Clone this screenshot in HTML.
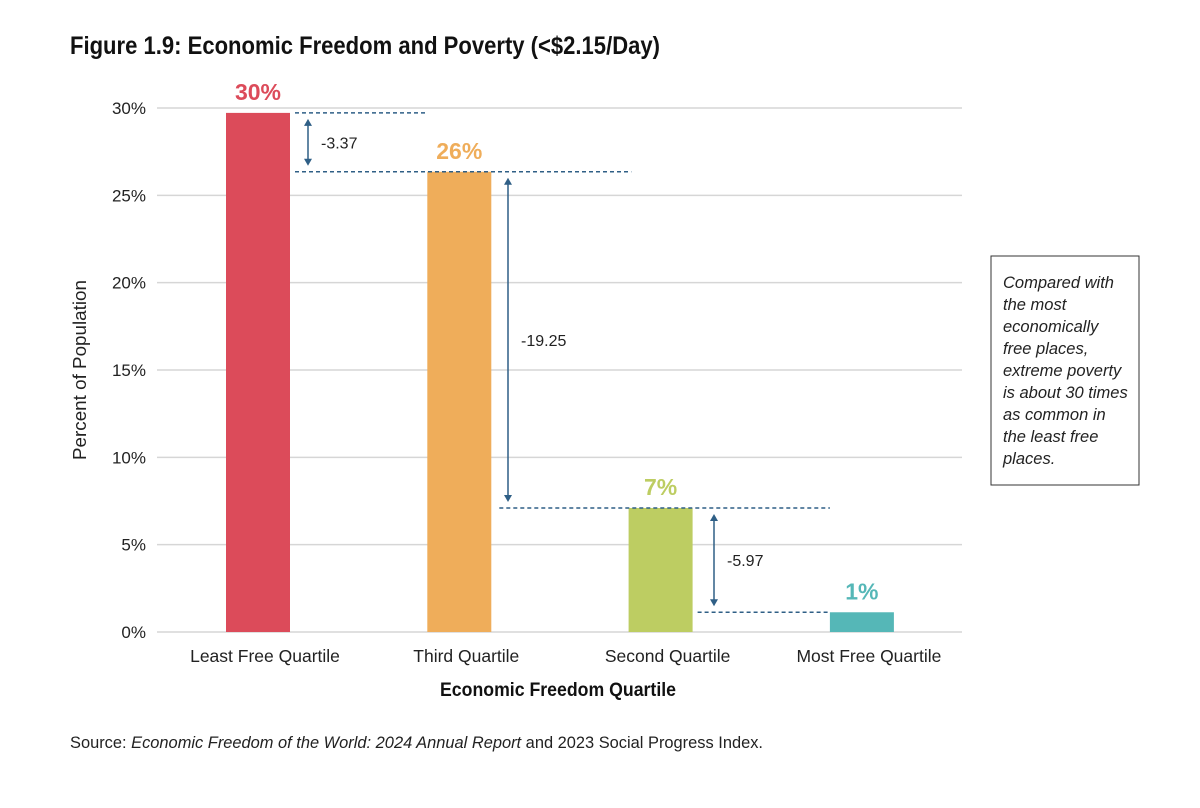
<!DOCTYPE html>
<html><head><meta charset="utf-8"><style>
body{margin:0;background:#fff;width:1200px;height:803px;overflow:hidden;font-family:"Liberation Sans",sans-serif;}
svg text{font-family:"Liberation Sans",sans-serif;}
</style></head><body>
<svg id="chart" width="1200" height="803" xmlns="http://www.w3.org/2000/svg">
<text x="70" y="54" font-size="25" font-weight="bold" fill="#111" textLength="590" lengthAdjust="spacingAndGlyphs">Figure 1.9: Economic Freedom and Poverty (&lt;$2.15/Day)</text>
<g id="grid"></g><g id="bars"></g><g id="ann"></g>
<text transform="translate(86,370) rotate(-90)" text-anchor="middle" font-size="18" fill="#222" textLength="180" lengthAdjust="spacingAndGlyphs">Percent of Population</text>
<text x="558" y="696" text-anchor="middle" font-size="19" font-weight="bold" fill="#111" textLength="236" lengthAdjust="spacingAndGlyphs">Economic Freedom Quartile</text>
<text x="70" y="748" font-size="17" fill="#222" textLength="693" lengthAdjust="spacingAndGlyphs">Source: <tspan font-style="italic">Economic Freedom of the World: 2024 Annual Report</tspan> and 2023 Social Progress Index.</text>
<g>
<rect x="991" y="256" width="148" height="229" fill="#fff" stroke="#333" stroke-width="1"/>
<text font-size="16.5" font-style="italic" fill="#222">
<tspan x="1003" y="288">Compared with</tspan><tspan x="1003" y="310">the most</tspan><tspan x="1003" y="332">economically</tspan><tspan x="1003" y="354">free places,</tspan><tspan x="1003" y="376">extreme poverty</tspan><tspan x="1003" y="398">is about 30 times</tspan><tspan x="1003" y="420">as common in</tspan><tspan x="1003" y="442">the least free</tspan><tspan x="1003" y="464">places.</tspan></text>
</g>
</svg>
<script>
const categories=["Least Free Quartile","Third Quartile","Second Quartile","Most Free Quartile"];
const values=[29.72,26.35,7.10,1.13];
const valueLabels=["30%","26%","7%","1%"];
const colors=["#dc4b5a","#efad5a","#bdcd62","#55b7b7"];
const yTicks=[0,5,10,15,20,25,30];
const diffLabels=["-3.37","-19.25","-5.97"];
const NS="http://www.w3.org/2000/svg";
const y0=632,y30=108,x0=157,x1=962;
const y=v=>y0-(v/30)*(y0-y30);
const xc=i=>258+i*201.3;
const bw=64;
function el(t,a,p,txt){const e=document.createElementNS(NS,t);for(const k in a)e.setAttribute(k,a[k]);if(txt!=null)e.textContent=txt;p.appendChild(e);return e;}
const G=document.getElementById('grid'),B=document.getElementById('bars'),A=document.getElementById('ann');
yTicks.forEach(t=>{
 const l=el('line',{x1:x0,x2:x1,y1:y(t),y2:y(t),stroke:'#d6d6d6','stroke-width':1.5},G);
 
 
 const tx=el('text',{x:146,y:y(t)+6,'text-anchor':'end','font-size':17,fill:'#222'},G,t+'%');
 
 
});
categories.forEach((c,i)=>{
 const r=el('rect',{x:xc(i)-bw/2,y:y(values[i]),width:bw,height:y0-y(values[i]),fill:colors[i]},B);
 
 
 const v=el('text',{x:xc(i),y:y(values[i])-13,'text-anchor':'middle','font-size':23,'font-weight':'bold',fill:colors[i]},B,valueLabels[i]);
 
 
 const cl=el('text',{x:xc(i)+7,y:662,'text-anchor':'middle','font-size':17.5,fill:'#222'},B,c);
 
 
});
const dash=(xa,xb,yy,n)=>{const d=el('line',{x1:xa,x2:xb,y1:yy,y2:yy,stroke:'#2f5f86','stroke-width':1.5,'stroke-dasharray':'4,3'},A);};
dash(xc(0)+bw/2+5,xc(1)-bw/2,y(values[0]),'dash-0');
dash(xc(0)+bw/2+5,xc(1)+bw/2+140,y(values[1]),'dash-1');
dash(xc(1)+bw/2+8,xc(3)-bw/2,y(values[2]),'dash-2');
dash(xc(2)+bw/2+5,xc(3)-bw/2,y(values[3]),'dash-3');
const arrXs=[308,508,714];
for(let k=0;k<3;k++){
 const ya=y(values[k])+6,yb=y(values[k+1])-6,xa=arrXs[k];
 const g=el('g',{},A);
 
 
 el('line',{x1:xa,x2:xa,y1:ya+3,y2:yb-3,stroke:'#2f5f86','stroke-width':1.5},g);
 el('path',{d:`M${xa-4},${ya+7}L${xa},${ya}L${xa+4},${ya+7}Z`,fill:'#2f5f86'},g);
 el('path',{d:`M${xa-4},${yb-7}L${xa},${yb}L${xa+4},${yb-7}Z`,fill:'#2f5f86'},g);
 const t=el('text',{x:xa+13,y:(ya+yb)/2+6,'font-size':16,fill:'#222'},A,diffLabels[k]);
 
 
}
</script>
</body></html>
